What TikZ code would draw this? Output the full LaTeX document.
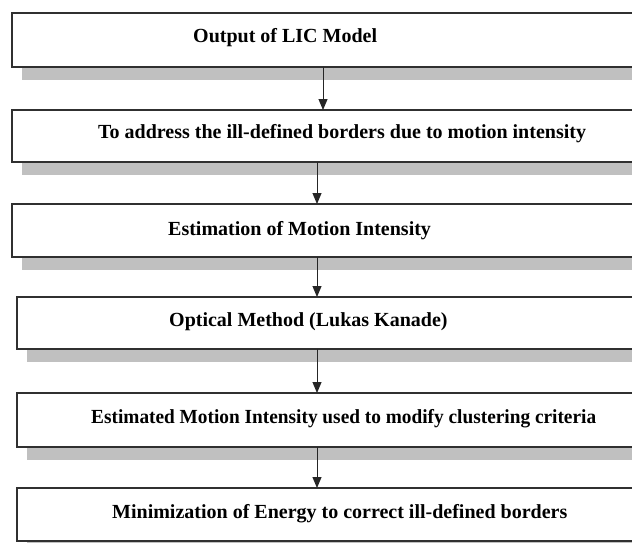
\documentclass[tikz,border=0pt]{standalone}
\usepackage{fontspec}
\setmainfont{Liberation Serif}
\usetikzlibrary{arrows.meta,calc,shadows}
\definecolor{shadowgray}{HTML}{C0C0C0}
\definecolor{edgegray}{HTML}{303030}
\tikzset{
  box/.style={draw=edgegray, line width=1.3pt, fill=white, anchor=north west,
    inner sep=0pt, outer sep=0pt, minimum width=660pt,
    drop shadow={shadow xshift=10pt, shadow yshift=-13pt, fill=shadowgray, opacity=1}},
  label/.style={anchor=base west, inner sep=0pt, font=\fontsize{20}{24}\selectfont\bfseries},
  arr/.style={draw=black!85, line width=1pt, -{Triangle[length=11pt,width=9pt]}}
}
\begin{document}
\begin{tikzpicture}[x=1pt,y=-1pt]
\useasboundingbox (0,0) rectangle (632,543);
\clip (0,0) rectangle (632,543);
\node[box, minimum height=54pt] (b1) at (12,13) {};
\node[box, minimum height=52pt] (b2) at (12,110) {};
\node[box, minimum height=53pt] (b3) at (12,204) {};
\node[box, minimum height=52pt] (b4) at (17,297) {};
\node[box, minimum height=54pt] (b5) at (17,393) {};
\node[box, minimum height=53pt] (b6) at (17,488) {};
\node[label] (t1) at (193,43) {Output of LIC Model};
\node[label] (t2) at (98,138) {To address the ill-defined borders due to motion intensity};
\node[label] (t3) at (168,235) {Estimation of Motion Intensity};
\node[label] (t4) at (169,326) {Optical Method (Lukas Kanade)};
\node[label] (t5) at (91,423) {\scalebox{0.966}[1]{Estimated Motion Intensity used to modify clustering criteria}};
\node[label] (t6) at (112,518) {Minimization of Energy to correct ill-defined borders};
\draw[arr] ($(b1.south west)+(311,0)$) -- ($(b2.north west)+(311,0)$);
\draw[arr] ($(b2.south west)+(305,0)$) -- ($(b3.north west)+(305,0)$);
\draw[arr] ($(b3.south west)+(305,0)$) -- ($(b4.north west)+(300,0)$);
\draw[arr] ($(b4.south west)+(300,0)$) -- ($(b5.north west)+(300,0)$);
\draw[arr] ($(b5.south west)+(300,0)$) -- ($(b6.north west)+(300,0)$);
\end{tikzpicture}
\end{document}
